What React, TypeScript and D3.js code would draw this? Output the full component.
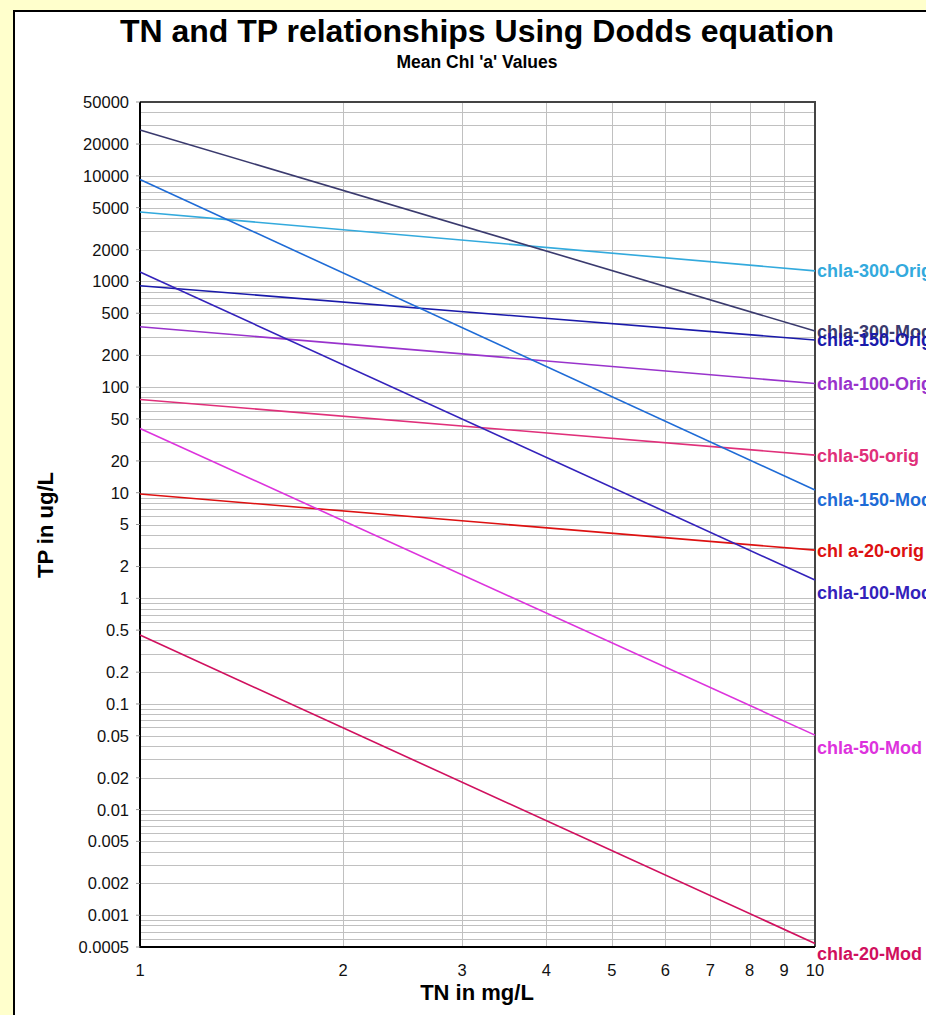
import * as d3 from "d3";
import { useEffect, useRef } from "react";

// TN (mg/L) at both ends of each line; TP (ug/L)
const TN_ENDS = [1, 10];
const SERIES_NAMES = [
  "chla-300-Orig",
  "chla-300-Mod",
  "chla-150-Orig",
  "chla-100-Orig",
  "chla-50-orig",
  "chla-150-Mod",
  "chl a-20-orig",
  "chla-100-Mod",
  "chla-50-Mod",
  "chla-20-Mod",
];
const TP_AT_TN1 = [4540, 27200, 912, 372, 76.4, 9230, 9.71, 1228, 40.6, 0.449];
const TP_AT_TN10 = [1260, 339, 279, 108, 22.7, 10.6, 2.86, 1.49, 0.0507, 0.00054];

const Y_TICKS = [
  50000, 20000, 10000, 5000, 2000, 1000, 500, 200, 100, 50, 20, 10, 5, 2, 1, 0.5, 0.2, 0.1, 0.05, 0.02, 0.01,
  0.005, 0.002, 0.001, 0.0005,
];
const Y_TICK_LABELS = [
  "50000", "20000", "10000", "5000", "2000", "1000", "500", "200", "100", "50", "20", "10", "5", "2", "1",
  "0.5", "0.2", "0.1", "0.05", "0.02", "0.01", "0.005", "0.002", "0.001", "0.0005",
];
const X_TICKS = [1, 2, 3, 4, 5, 6, 7, 8, 9, 10];

const LINE_COLOR = {
  "chla-300-Orig": "#33aadd",
  "chla-300-Mod": "#3a3a6e",
  "chla-150-Orig": "#1a1aaa",
  "chla-100-Orig": "#9933cc",
  "chla-50-orig": "#e0307a",
  "chla-150-Mod": "#1e6bd6",
  "chl a-20-orig": "#dd1111",
  "chla-100-Mod": "#3322bb",
  "chla-50-Mod": "#dd33dd",
  "chla-20-Mod": "#d0105e",
};
// vertical nudge of the end labels, in px
const LABEL_DY = {
  "chla-150-Mod": 9,
  "chla-100-Mod": 12,
  "chla-50-Mod": 12,
  "chla-20-Mod": 10,
};

const FONT = "Arial, 'Liberation Sans', sans-serif";

export default function App() {
  const ref = useRef<SVGSVGElement | null>(null);

  useEffect(() => {
    document.body.style.margin = "0";
    const svg = d3.select(ref.current);
    svg.selectAll("*").remove();

    const W = 926;
    const H = 1015;
    const left = 140;
    const right = 815;
    const top = 102;
    const bottom = 947;

    svg.append("rect").attr("width", W).attr("height", H).attr("fill", "#ffffcc");
    svg
      .append("rect")
      .attr("x", 14)
      .attr("y", 11)
      .attr("width", W + 20)
      .attr("height", H + 20)
      .attr("fill", "#ffffff")
      .attr("stroke", "#000")
      .attr("stroke-width", 2);

    const x = d3.scaleLog().domain([1, 10]).range([left, right]);
    const y = d3.scaleLog().domain([0.0005, 50000]).range([bottom, top]);

    // grid
    const grid = svg.append("g");
    const minor: number[] = [];
    for (let e = -4; e <= 4; e++) {
      for (let m = 1; m <= 9; m++) {
        const v = m * Math.pow(10, e);
        if (v > 0.0005 * 1.0001 && v < 50000 / 1.0001) minor.push(v);
      }
    }
    grid
      .selectAll("line.h")
      .data(minor)
      .join("line")
      .attr("x1", left)
      .attr("x2", right)
      .attr("y1", (d) => Math.round(y(d)) + 0.5)
      .attr("y2", (d) => Math.round(y(d)) + 0.5)
      .attr("stroke", "#c0c0c0")
      .attr("stroke-width", 1);
    grid
      .selectAll("line.v")
      .data(X_TICKS.slice(1, -1))
      .join("line")
      .attr("x1", (d) => Math.round(x(d)) + 0.5)
      .attr("x2", (d) => Math.round(x(d)) + 0.5)
      .attr("y1", top)
      .attr("y2", bottom)
      .attr("stroke", "#c0c0c0")
      .attr("stroke-width", 1);

    // frame of the plot
    svg
      .append("path")
      .attr("d", `M${left},${top}H${right}V${bottom}`)
      .attr("fill", "none")
      .attr("stroke", "#444")
      .attr("stroke-width", 2);
    svg
      .append("path")
      .attr("d", `M${left},${top}V${bottom}H${right}`)
      .attr("fill", "none")
      .attr("stroke", "#000")
      .attr("stroke-width", 2);

    // y tick marks + labels
    svg
      .append("g")
      .selectAll("line")
      .data(Y_TICKS)
      .join("line")
      .attr("x1", left - 4)
      .attr("x2", left)
      .attr("y1", (d) => y(d))
      .attr("y2", (d) => y(d))
      .attr("stroke", "#999");
    svg
      .append("g")
      .selectAll("text")
      .data(Y_TICKS)
      .join("text")
      .attr("x", 129)
      .attr("y", (d) => y(d))
      .attr("dy", "0.36em")
      .attr("text-anchor", "end")
      .attr("font-family", FONT)
      .attr("font-size", 16.5)
      .attr("fill", "#111")
      .text((d, i) => Y_TICK_LABELS[i]);

    svg
      .append("g")
      .selectAll("text")
      .data(X_TICKS)
      .join("text")
      .attr("x", (d) => x(d))
      .attr("y", 976)
      .attr("text-anchor", "middle")
      .attr("font-family", FONT)
      .attr("font-size", 16.5)
      .attr("fill", "#111")
      .text((d) => String(d));

    // series lines
    const line = d3
      .line<[number, number]>()
      .x((d) => x(d[0]))
      .y((d) => y(d[1]));
    const series = SERIES_NAMES.map((name, i) => ({
      name,
      pts: [
        [TN_ENDS[0], TP_AT_TN1[i]],
        [TN_ENDS[1], TP_AT_TN10[i]],
      ] as [number, number][],
    }));
    svg
      .append("g")
      .selectAll("path")
      .data(series)
      .join("path")
      .attr("d", (d) => line(d.pts))
      .attr("fill", "none")
      .attr("stroke", (d) => LINE_COLOR[d.name])
      .attr("stroke-width", 1.6);

    svg
      .append("g")
      .selectAll("text")
      .data(series)
      .join("text")
      .attr("x", right + 2)
      .attr("y", (d) => y(d.pts[1][1]) + (LABEL_DY[d.name] || 0))
      .attr("dy", "0.36em")
      .attr("font-family", FONT)
      .attr("font-size", 18)
      .attr("font-weight", 700)
      .attr("fill", (d) => LINE_COLOR[d.name])
      .text((d) => d.name);

    // titles
    svg
      .append("text")
      .attr("x", 477)
      .attr("y", 42)
      .attr("text-anchor", "middle")
      .attr("font-family", FONT)
      .attr("font-size", 32)
      .attr("font-weight", 700)
      .text("TN and TP relationships Using Dodds equation");
    svg
      .append("text")
      .attr("x", 477)
      .attr("y", 68)
      .attr("text-anchor", "middle")
      .attr("font-family", FONT)
      .attr("font-size", 17.5)
      .attr("font-weight", 700)
      .text("Mean Chl 'a' Values");
    svg
      .append("text")
      .attr("x", 477)
      .attr("y", 1000)
      .attr("text-anchor", "middle")
      .attr("font-family", FONT)
      .attr("font-size", 22)
      .attr("font-weight", 700)
      .text("TN in mg/L");
    svg
      .append("text")
      .attr("transform", "translate(53,525) rotate(-90)")
      .attr("text-anchor", "middle")
      .attr("font-family", FONT)
      .attr("font-size", 22)
      .attr("font-weight", 700)
      .text("TP in ug/L");
  }, []);

  return (
    <div style={{ width: 926, height: 1015, overflow: "hidden" }}>
      <svg ref={ref} width={926} height={1015} style={{ display: "block" }} />
    </div>
  );
}
